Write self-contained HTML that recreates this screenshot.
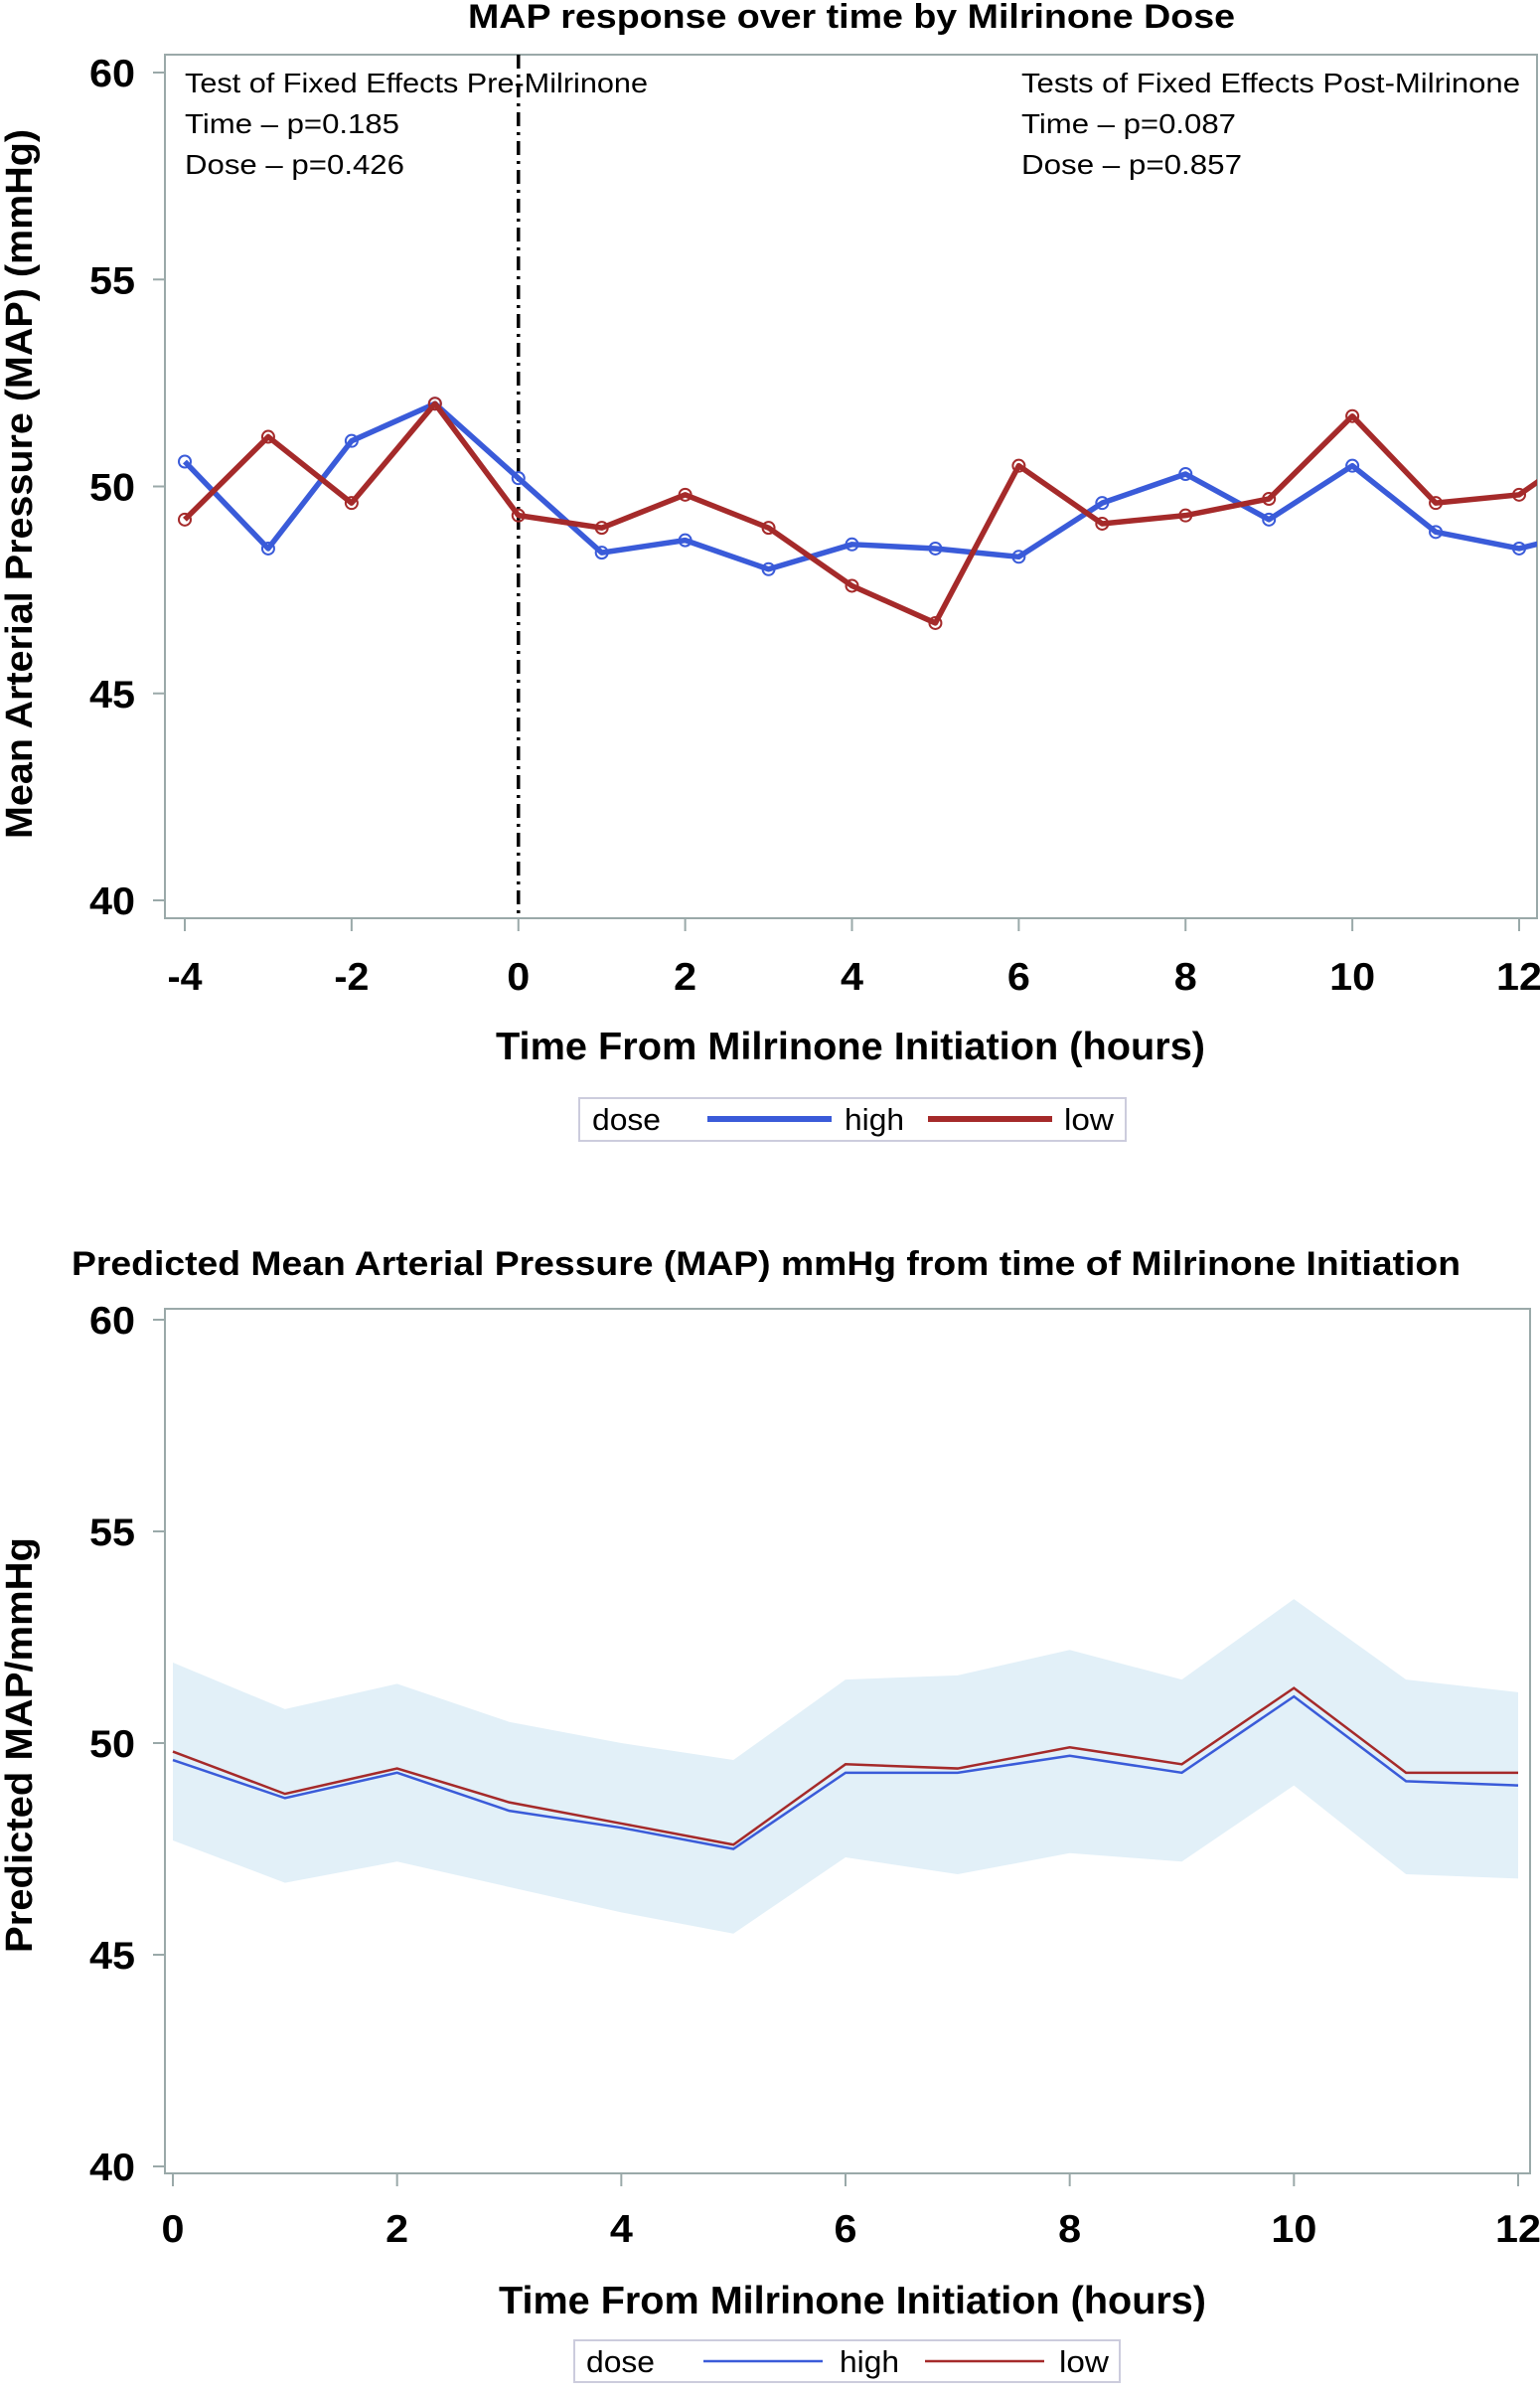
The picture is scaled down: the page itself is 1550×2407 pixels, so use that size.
<!DOCTYPE html>
<html><head><meta charset="utf-8"><style>
html,body{margin:0;padding:0;background:#fff;}
svg{display:block;font-family:"Liberation Sans",sans-serif;}
</style></head><body>
<svg id="svg" width="1550" height="2407" viewBox="0 0 1550 2407" xmlns="http://www.w3.org/2000/svg"></svg>
<script>
// Chart 1 data
const times1 = [-4,-3,-2,-1,0,1,2,3,4,5,6,7,8,9,10,11,12,13];
const high1 = [50.6,48.5,51.1,52.0,50.2,48.4,48.7,48.0,48.6,48.5,48.3,49.6,50.3,49.2,50.5,48.9,48.5,49.0];
const low1 = [49.2,51.2,49.6,52.0,49.3,49.0,49.8,49.0,47.6,46.7,50.5,49.1,49.3,49.7,51.7,49.6,49.8,51.2];
const xticks1 = [-4,-2,0,2,4,6,8,10,12];
const yticks = [40,45,50,55,60];
// Chart 2 data
const times2 = [0,1,2,3,4,5,6,7,8,9,10,11,12];
const high2 = [49.6,48.7,49.3,48.4,48.0,47.5,49.3,49.3,49.7,49.3,51.1,49.1,49.0];
const low2 = [49.8,48.8,49.4,48.6,48.1,47.6,49.5,49.4,49.9,49.5,51.3,49.3,49.3];
const upper2 = [51.9,50.8,51.4,50.5,50.0,49.6,51.5,51.6,52.2,51.5,53.4,51.5,51.2];
const lower2 = [47.7,46.7,47.2,46.6,46.0,45.5,47.3,46.9,47.4,47.2,49.0,46.9,46.8];
const xticks2 = [0,2,4,6,8,10,12];

const NS="http://www.w3.org/2000/svg";
const svg=document.getElementById('svg');
function mk(tag,attrs,parent,text){const e=document.createElementNS(NS,tag);for(const k in attrs)e.setAttribute(k,attrs[k]);if(text!==undefined)e.textContent=text;(parent||svg).appendChild(e);return e;}
function fit(e,len){e.setAttribute('textLength',len);e.setAttribute('lengthAdjust','spacingAndGlyphs');return e;}
function tickLen(v){const s=String(v);let l=0;for(const c of s)l+=(c==='-'?12:23);return l;}
const BLUE='#3a5bd9', RED='#a52a2a';

// ---------- Chart 1 ----------
const g1=mk('g',{});


const X1=v=>186+(v+4)*(1529-186)/16;
const Y1=v=>906-(v-40)*(906-73)/20;
let t=fit(mk('text',{x:471,y:28,'font-size':34,'font-weight':'bold'},g1,'MAP response over time by Milrinone Dose'),772);


mk('defs',{},g1).innerHTML='<clipPath id="c1"><rect x="166" y="55" width="1381" height="869"/></clipPath>';
let fr=mk('rect',{x:166,y:55,width:1381,height:869,fill:'none',stroke:'#9aa9a9','stroke-width':2},g1);


yticks.forEach(v=>{
  mk('line',{x1:154,x2:166,y1:Y1(v),y2:Y1(v),stroke:'#9aa9a9','stroke-width':2},g1);
  const e=fit(mk('text',{x:136-tickLen(v),y:Y1(v)+14,'font-size':39,'font-weight':'bold'},g1,v),tickLen(v));
  
  
});
xticks1.forEach(v=>{
  mk('line',{x1:X1(v),x2:X1(v),y1:924,y2:937,stroke:'#9aa9a9','stroke-width':2},g1);
  const e=fit(mk('text',{x:X1(v)-tickLen(v)/2,y:996,'font-size':39,'font-weight':'bold'},g1,v),tickLen(v));
  
  
});
t=fit(mk('text',{x:499,y:1066,'font-size':39,'font-weight':'bold'},g1,'Time From Milrinone Initiation (hours)'),714);


t=fit(mk('text',{x:-357,y:0,'font-size':38,'font-weight':'bold',transform:'translate(32,487) rotate(-90)'},g1,'Mean Arterial Pressure (MAP) (mmHg)'),714);


let rl=mk('line',{x1:X1(0),x2:X1(0),y1:55,y2:924,stroke:'#000','stroke-width':3.5,'stroke-dasharray':'14 6 3 6'},g1);


[['Test of Fixed Effects Pre-Milrinone',186,93,466],['Time – p=0.185',186,134,216],['Dose – p=0.426',186,175,221],
 ['Tests of Fixed Effects Post-Milrinone',1028,93,502],['Time – p=0.087',1028,134,216],['Dose – p=0.857',1028,175,222]].forEach(a=>{
  const e=fit(mk('text',{x:a[1],y:a[2],'font-size':28},g1,a[0]),a[3]);
  
  
});
const cg=mk('g',{'clip-path':'url(#c1)'},g1);
[[high1,BLUE,'high-dose-series'],[low1,RED,'low-dose-series']].forEach(s=>{
  const pts=times1.map((tt,i)=>X1(tt)+','+Y1(s[0][i])).join(' ');
  const pl=mk('polyline',{points:pts,fill:'none',stroke:s[1],'stroke-width':5.5,'stroke-linejoin':'round'},cg);
  
  
  times1.forEach((tt,i)=>{
    const c=mk('circle',{cx:X1(tt),cy:Y1(s[0][i]),r:6,fill:'none',stroke:s[1],'stroke-width':2},cg);
    
    
  });
});
const lg1=mk('g',{},g1);


mk('rect',{x:583,y:1105,width:550,height:43,fill:'#fff',stroke:'#ccd','stroke-width':2},lg1);
fit(mk('text',{x:596,y:1137,'font-size':31},lg1,'dose'),69);
let le=mk('line',{x1:712,x2:837,y1:1126,y2:1126,stroke:BLUE,'stroke-width':6},lg1);


fit(mk('text',{x:850,y:1137,'font-size':31},lg1,'high'),60);
le=mk('line',{x1:934,x2:1059,y1:1126,y2:1126,stroke:RED,'stroke-width':6},lg1);


fit(mk('text',{x:1071,y:1137,'font-size':31},lg1,'low'),50);

// ---------- Chart 2 ----------
const g2=mk('g',{});


const X2=v=>174+v*(1528-174)/12;
const Y2=v=>2180-(v-40)*(2180-1328)/20;
t=fit(mk('text',{x:72,y:1283,'font-size':34,'font-weight':'bold'},g2,'Predicted Mean Arterial Pressure (MAP) mmHg from time of Milrinone Initiation'),1398);


fr=mk('rect',{x:166,y:1317,width:1374,height:870,fill:'none',stroke:'#9aa9a9','stroke-width':2},g2);


const band=times2.map((tt,i)=>X2(tt)+','+Y2(upper2[i])).concat(times2.slice().reverse().map((tt,j)=>{const i=times2.length-1-j;return X2(tt)+','+Y2(lower2[i]);})).join(' ');
let bp=mk('polygon',{points:band,fill:'#e2f0f8'},g2);


yticks.forEach(v=>{
  mk('line',{x1:154,x2:166,y1:Y2(v),y2:Y2(v),stroke:'#9aa9a9','stroke-width':2},g2);
  const e=fit(mk('text',{x:136-tickLen(v),y:Y2(v)+14,'font-size':39,'font-weight':'bold'},g2,v),tickLen(v));
  
  
});
xticks2.forEach(v=>{
  mk('line',{x1:X2(v),x2:X2(v),y1:2187,y2:2200,stroke:'#9aa9a9','stroke-width':2},g2);
  const e=fit(mk('text',{x:X2(v)-tickLen(v)/2,y:2256,'font-size':39,'font-weight':'bold'},g2,v),tickLen(v));
  
  
});
t=fit(mk('text',{x:502,y:2328,'font-size':39,'font-weight':'bold'},g2,'Time From Milrinone Initiation (hours)'),712);


t=fit(mk('text',{x:-209,y:0,'font-size':38,'font-weight':'bold',transform:'translate(32,1756) rotate(-90)'},g2,'Predicted MAP/mmHg'),418);


[[high2,BLUE,'high-dose-predicted'],[low2,RED,'low-dose-predicted']].forEach(s=>{
  const pts=times2.map((tt,i)=>X2(tt)+','+Y2(s[0][i])).join(' ');
  const pl=mk('polyline',{points:pts,fill:'none',stroke:s[1],'stroke-width':2.5},g2);
  
  
});
const lg2=mk('g',{},g2);


mk('rect',{x:578,y:2355,width:549,height:42,fill:'#fff',stroke:'#ccd','stroke-width':2},lg2);
fit(mk('text',{x:590,y:2387,'font-size':31},lg2,'dose'),69);
le=mk('line',{x1:708,x2:828,y1:2376,y2:2376,stroke:BLUE,'stroke-width':2.5},lg2);


fit(mk('text',{x:845,y:2387,'font-size':31},lg2,'high'),60);
le=mk('line',{x1:931,x2:1051,y1:2376,y2:2376,stroke:RED,'stroke-width':2.5},lg2);


fit(mk('text',{x:1066,y:2387,'font-size':31},lg2,'low'),50);
</script>
</body></html>
